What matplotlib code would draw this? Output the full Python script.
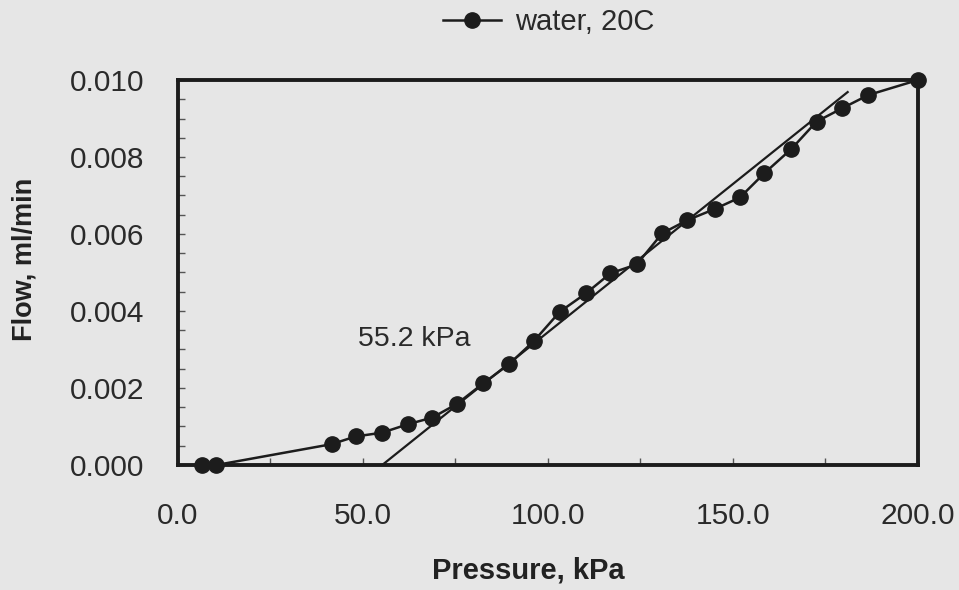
import matplotlib.pyplot as plt
from matplotlib.ticker import MultipleLocator, FormatStrFormatter

# measured flow of water at 20C against applied pressure
pressure = [6.6, 10.4, 41.5, 48.0, 55.2, 62.2, 68.7, 75.3, 82.5, 89.5, 96.2,
            103.2, 110.3, 116.9, 124.0, 130.9, 137.7, 145.1, 151.9, 158.5,
            165.8, 172.6, 179.4, 186.6, 200.0]
flow = [0.0, 0.0, 0.00054, 0.00074, 0.00084, 0.00106, 0.00123, 0.00158,
        0.00212, 0.00262, 0.00322, 0.00398, 0.00446, 0.00498, 0.00521,
        0.00602, 0.00636, 0.00665, 0.00695, 0.00758, 0.00821, 0.00892,
        0.00926, 0.00961, 0.0100]

# straight-line fit of the linear part, crossing zero flow at the onset pressure
onset = 55.2
fit_end = 181.0
fit_slope = 7.7e-5

bg = '#e6e6e6'
ink = '#1c1c1c'

plt.rcParams['font.family'] = ['Liberation Sans', 'DejaVu Sans']

fig = plt.figure(figsize=(9.59, 5.9), dpi=100, facecolor=bg)
ax = fig.add_axes([0.1856, 0.2119, 0.7716, 0.6525], facecolor=bg)

ax.plot(pressure, flow, '-o', color=ink, lw=1.8, ms=11, clip_on=False,
        label='water, 20C', zorder=3)
ax.plot([onset, fit_end], [0, fit_slope * (fit_end - onset)], color=ink, lw=1.6,
        zorder=2)
ax.text(48.6, 0.00327, '%.1f kPa' % onset, fontsize=20.5, color='#2a2a2a',
        va='center', ha='left')

ax.set_xlim(0, 200)
ax.set_ylim(0, 0.010)
ax.xaxis.set_major_locator(MultipleLocator(50))
ax.xaxis.set_minor_locator(MultipleLocator(25))
ax.yaxis.set_major_locator(MultipleLocator(0.002))
ax.yaxis.set_minor_locator(MultipleLocator(0.0005))
ax.xaxis.set_major_formatter(FormatStrFormatter('%.1f'))
ax.yaxis.set_major_formatter(FormatStrFormatter('%.3f'))

ax.tick_params(axis='both', which='both', direction='in', length=5, width=1,
               color='#555555', labelsize=21.5, labelcolor='#2a2a2a')
ax.tick_params(axis='x', pad=27)
ax.tick_params(axis='y', pad=24)
for side in ax.spines.values():
    side.set_linewidth(2.8)
    side.set_color(ink)

ax.set_xlabel('Pressure, kPa', fontsize=21, fontweight='bold', color='#222222')
ax.set_ylabel('Flow, ml/min', fontsize=19.5, fontweight='bold', color='#222222')
ax.xaxis.set_label_coords(0.473, -0.237)
ax.yaxis.set_label_coords(-0.19, 0.535)

fig.legend(loc='center', bbox_to_anchor=(0.572, 0.962), frameon=False,
           fontsize=21, handlelength=2.0, handletextpad=0.45,
           labelcolor='#2a2a2a')

fig.savefig('out.png', dpi=100, facecolor=bg)
